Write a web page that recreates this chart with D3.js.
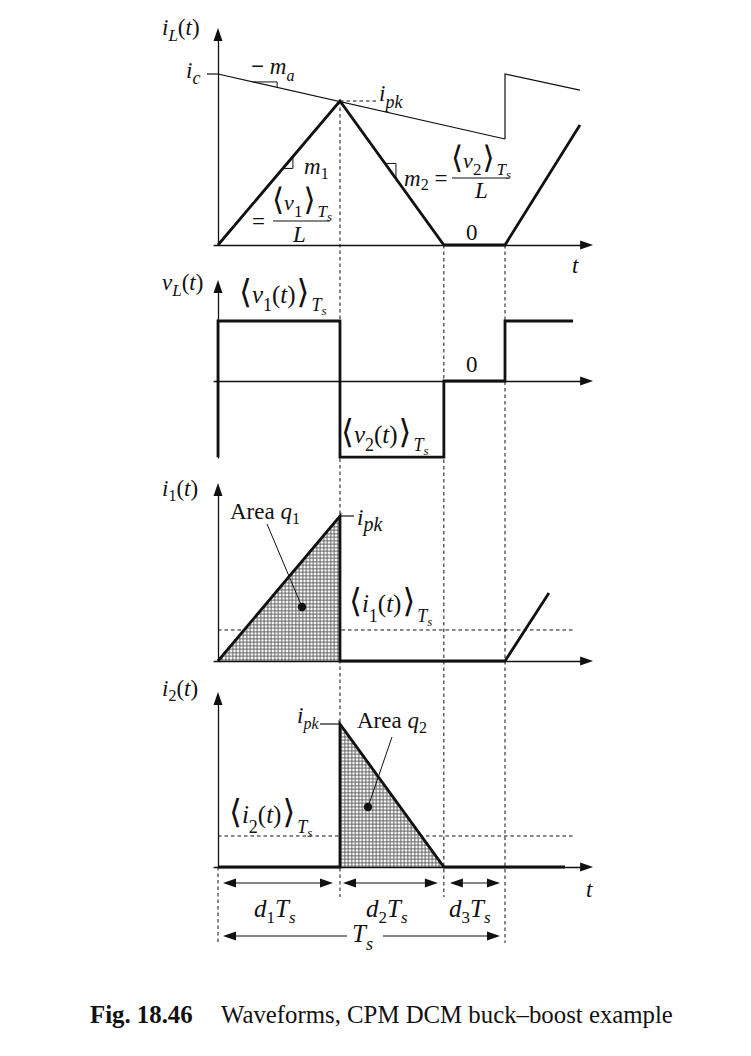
<!DOCTYPE html>
<html><head><meta charset="utf-8">
<script src="https://cdn.jsdelivr.net/npm/d3@7"></script>
<style>body{margin:0;background:#fff} svg{display:block}</style>
</head><body>
<svg id="c" width="751" height="1056"></svg>
<script>
// ---------- data (time in units of Ts, values normalised to i_pk / <v1>) ----------
const phaseBounds = [0, 0.425, 0.787, 1.0];
const iL_t = [0, 0.425, 0.787, 1.0, 1.261];
const iL_v = [0, 1, 0, 0, 0.833];
const ramp1_t = [0, 1.0];
const ramp1_v = [1.1875, 0.736];
const ramp2_t = [1.0, 1.0, 1.261];
const ramp2_v = [0.736, 1.1875, 1.076];
const ic_value = 1.1875;
const vL_t = [0, 0, 0.425, 0.425, 0.787, 0.787, 1.0, 1.0, 1.237];
const vL_v = [-1.27, 1, 1, -1.27, -1.27, 0, 0, 1, 1];
const i1_t = [0, 0.425, 0.425, 1.0, 1.153];
const i1_v = [0, 1, 0, 0, 0.469];
const i1_avg = 0.214;
const i2_t = [0, 0.425, 0.425, 0.787, 1.209];
const i2_v = [0, 0, 1, 0, 0];
const i2_avg = 0.217;
const q1_t = [0, 0.425, 0.425], q1_v = [0, 1, 0];
const q2_t = [0.425, 0.425, 0.787], q2_v = [0, 1, 0];
const axisEnd_t = 1.307, axisStart_t = -0.017, avgEnd_t = 1.244;

// ---------- layout ----------
const svg = d3.select("#c");
const x = d3.scaleLinear().domain([0, 1]).range([218, 505]);
const panel = (y0, y1) => d3.scaleLinear().domain([0, 1]).range([y0, y1]);
const y1s = panel(245, 101), y2s = panel(381, 321), y3s = panel(661, 516), y4s = panel(867, 724);
const INK = "#111";
const SERIF = "'Liberation Serif','Times New Roman',serif";

const defs = svg.append("defs");
const pat = defs.append("pattern").attr("id", "dots").attr("width", 3.5).attr("height", 3.5)
  .attr("patternUnits", "userSpaceOnUse");
pat.append("rect").attr("width", 3.5).attr("height", 3.5).attr("fill", "#fff");
pat.append("circle").attr("cx", 1.75).attr("cy", 1.75).attr("r", 1.05).attr("fill", "none")
  .attr("stroke", "#000").attr("stroke-width", 0.65);

function arrowHead(g, xt, yt, dir, len = 13, hw = 4.5) {
  let p;
  if (dir === "up") p = [[xt, yt], [xt - hw, yt + len], [xt + hw, yt + len]];
  if (dir === "right") p = [[xt, yt], [xt - len, yt - hw], [xt - len, yt + hw]];
  if (dir === "left") p = [[xt, yt], [xt + len, yt - hw], [xt + len, yt + hw]];
  g.append("path").attr("d", d3.line()(p) + "Z").attr("fill", INK);
}

function axes(ys, top, bottom) {
  const g = svg.append("g");
  const vs = d3.scaleLinear().domain([0, 1]).range([bottom, top + 10]);
  g.append("g").attr("transform", `translate(${x(0)},0)`)
    .call(d3.axisLeft(vs).tickValues([]).tickSizeOuter(0))
    .select(".domain").attr("stroke", INK).attr("stroke-width", 1.3);
  arrowHead(g, x(0), top, "up");
  const hs = d3.scaleLinear().domain([0, 1]).range([x(axisStart_t), x(axisEnd_t) - 10]);
  g.append("g").attr("transform", `translate(0,${ys(0)})`)
    .call(d3.axisBottom(hs).tickValues([]).tickSizeOuter(0))
    .select(".domain").attr("stroke", INK).attr("stroke-width", 1.3);
  arrowHead(g, x(axisEnd_t), ys(0), "right");
}

function wave(ts, vs, ys, w = 2.8, col = INK) {
  svg.append("path").datum(d3.zip(ts, vs))
    .attr("d", d3.line().x(d => x(d[0])).y(d => ys(d[1])))
    .attr("fill", "none").attr("stroke", col).attr("stroke-width", w)
    .attr("stroke-linejoin", "miter").attr("stroke-linecap", "butt");
}
function area(ts, vs, ys) {
  const gen = d3.line().x(d => x(d[0])).y(d => ys(d[1]));
  svg.append("path").datum(d3.zip(ts, vs))
    .attr("d", d => gen(d) + "Z").attr("fill", "url(#dots)");
}
function line(x1, y1, x2, y2, w = 1, dash = null) {
  const l = svg.append("line").attr("x1", x1).attr("y1", y1).attr("x2", x2).attr("y2", y2)
    .attr("stroke", INK).attr("stroke-width", w);
  if (dash) l.attr("stroke-dasharray", dash);
  return l;
}

// math label: kinds: i italic, r roman, si sub italic, sr sub roman, ss sub-sub italic, b bracket
function label(x0, y0, segs, opt = {}) {
  const fs = opt.fs || 23, ss = opt.ss || 16, sub = opt.sub || 6;
  const t = svg.append("text").attr("x", x0).attr("y", y0)
    .attr("font-family", SERIF).attr("font-size", fs).attr("fill", INK);
  let cur = 0;
  segs.forEach(([s, k]) => {
    const ts = t.append("tspan").text(s);
    const isSub = k === "si" || k === "sr";
    const target = isSub ? sub : (k === "ss" ? sub + 4 : 0);
    if (target !== cur) { ts.attr("dy", target - cur); cur = target; }
    if (k === "i" || k === "si" || k === "ss") ts.attr("font-style", "italic");
    if (isSub) ts.attr("font-size", ss);
    if (k === "ss") ts.attr("font-size", opt.sss || 12);
    if (k === "b") ts.attr("font-family", "'DejaVu Sans','DejaVu Serif',sans-serif").attr("font-size", opt.bs || 31)
      .attr("font-weight", "200").attr("dx", 1);
    if (k === "bold") ts.attr("font-weight", "bold");
    if (k === "si" && s === "T") ts.attr("dx", 2);
  });
  return t;
}

// ---------- dashed guides ----------
const dashA = "3.5,3";
line(x(phaseBounds[1]), y1s(1), x(phaseBounds[1]), y4s(0) + 30, 1, dashA);
line(x(phaseBounds[2]), y1s(0), x(phaseBounds[2]), y4s(0) + 30, 1, dashA);
line(x(phaseBounds[3]), y1s(0), x(phaseBounds[3]), y4s(0) + 76, 1, dashA);
line(x(phaseBounds[0]), y4s(0), x(phaseBounds[0]), y4s(0) + 76, 1, dashA);
line(x(phaseBounds[1]), y1s(1), x(0.557), y1s(1), 1, dashA);
line(x(0), y3s(i1_avg), x(avgEnd_t), y3s(i1_avg), 1, dashA);
line(x(0), y4s(i2_avg), x(avgEnd_t), y4s(i2_avg), 1, dashA);

// ---------- shaded areas ----------
area(q1_t, q1_v, y3s);
area(q2_t, q2_v, y4s);

// ---------- axes ----------
axes(y1s, 28, y1s(0));
axes(y2s, 280, 458);
axes(y3s, 483, y3s(0));
axes(y4s, 692, y4s(0));

// ---------- panel 1 ----------
wave(ramp1_t, ramp1_v, y1s, 1.2);
wave(ramp2_t, ramp2_v, y1s, 1.2);
line(x(0) - 11, y1s(ic_value), x(0), y1s(ic_value), 1.2);
wave(iL_t, iL_v, y1s, 2.8);
const rampAt = t => ramp1_v[0] + (ramp1_v[1] - ramp1_v[0]) * t;
const riseAt = t => t / 0.425;
const fallAt = t => 1 - (t - 0.425) / (0.787 - 0.425);
function slopeTri(ta, tb, f, ys) {
  svg.append("path").datum([[ta, f(ta)], [tb, f(ta)], [tb, f(tb)]])
    .attr("d", d3.line().x(d => x(d[0])).y(d => ys(d[1])))
    .attr("fill", "none").attr("stroke", INK).attr("stroke-width", 1);
}
slopeTri(0.122, 0.206, rampAt, y1s);
slopeTri(0.226, 0.261, riseAt, y1s);
slopeTri(0.582, 0.620, fallAt, y1s);

label(162, 35, [["i", "i"], ["L", "si"], ["(", "r"], ["t", "i"], [")", "r"]], {ss: 17});
label(186, 78, [["i", "i"], ["c", "si"]], {ss: 18});
label(251, 74, [["−", "bold"], [" ", "r"], ["m", "i"], ["a", "si"]], {sub: 7});
label(379, 101, [["i", "i"], ["pk", "si"]], {sub: 7, ss: 18});
label(304, 174, [["m", "i"], ["1", "sr"]], {sub: 5});
label(252, 229, [["=", "r"]]);
const frOpt = {sub: 7, ss: 17, fs: 22, sss: 13};
label(271, 210, [["⟨", "b"], ["v", "i"], ["1", "sr"], ["⟩", "b"], ["T", "si"], ["s", "ss"]], frOpt);
line(273, 221, 330, 221, 1.2);
label(293, 242, [["L", "i"]]);
label(404, 186, [["m", "i"], ["2", "sr"], [" =", "r"]], {sub: 4});
label(450, 168, [["⟨", "b"], ["v", "i"], ["2", "sr"], ["⟩", "b"], ["T", "si"], ["s", "ss"]], frOpt);
line(452, 178, 509, 178, 1.2);
label(475, 198, [["L", "i"]]);
label(466, 240, [["0", "r"]]);
label(572, 273, [["t", "i"]]);

// ---------- panel 2 ----------
wave(vL_t, vL_v, y2s, 2.8);
label(162, 290, [["v", "i"], ["L", "si"], ["(", "r"], ["t", "i"], [")", "r"]], {ss: 17});
const brOpt = {sub: 8, fs: 25, ss: 18, bs: 33, sss: 13};
label(238, 303, [["⟨", "b"], ["v", "i"], ["1", "sr"], ["(", "r"], ["t", "i"], [")", "r"], ["⟩", "b"], ["T", "si"], ["s", "ss"]], brOpt);
label(466, 372, [["0", "r"]]);
label(340, 443, [["⟨", "b"], ["v", "i"], ["2", "sr"], ["(", "r"], ["t", "i"], [")", "r"], ["⟩", "b"], ["T", "si"], ["s", "ss"]], brOpt);

// ---------- panel 3 ----------
wave(i1_t, i1_v, y3s, 2.8);
line(x(0.425), y3s(1), x(0.425) + 14, y3s(1), 1.2);
label(162, 496, [["i", "i"], ["1", "sr"], ["(", "r"], ["t", "i"], [")", "r"]], {sub: 5});
label(230, 519, [["Area ", "r"], ["q", "i"], ["1", "sr"]], {sub: 5});
label(357, 525, [["i", "i"], ["pk", "si"]], {sub: 6, ss: 20});
const brOpt2 = {sub: 10, fs: 25, ss: 18, bs: 33, sss: 13};
label(348, 612, [["⟨", "b"], ["i", "i"], ["1", "sr"], ["(", "r"], ["t", "i"], [")", "r"], ["⟩", "b"], ["T", "si"], ["s", "ss"]], brOpt2);
line(267, 524, 302, 607, 1);
svg.append("circle").attr("cx", 302).attr("cy", 607).attr("r", 4.2).attr("fill", INK);

// ---------- panel 4 ----------
wave(i2_t, i2_v, y4s, 2.8);
line(x(0.425) - 20, y4s(1), x(0.425), y4s(1), 1.2);
label(297, 723, [["i", "i"], ["pk", "si"]], {sub: 6, ss: 16});
label(162, 696, [["i", "i"], ["2", "sr"], ["(", "r"], ["t", "i"], [")", "r"]], {sub: 5});
label(357, 728, [["Area ", "r"], ["q", "i"], ["2", "sr"]], {sub: 5});
label(228, 823, [["⟨", "b"], ["i", "i"], ["2", "sr"], ["(", "r"], ["t", "i"], [")", "r"], ["⟩", "b"], ["T", "si"], ["s", "ss"]], brOpt2);
line(392, 737, 368, 807, 1);
svg.append("circle").attr("cx", 368).attr("cy", 807).attr("r", 4.2).attr("fill", INK);
label(586, 897, [["t", "i"]]);

// ---------- dimension arrows ----------
function dimArrow(xa, xb, yy) {
  const g = svg.append("g");
  g.append("line").attr("x1", xa + 8).attr("x2", xb - 8).attr("y1", yy).attr("y2", yy)
    .attr("stroke", INK).attr("stroke-width", 1.2);
  arrowHead(g, xa, yy, "left");
  arrowHead(g, xb, yy, "right");
}
const dimY = y4s(0) + 16, tsY = y4s(0) + 69;
dimArrow(x(phaseBounds[0]) + 5, x(phaseBounds[1]) - 7, dimY);
dimArrow(x(phaseBounds[1]) + 3, x(phaseBounds[2]) - 6, dimY);
dimArrow(x(phaseBounds[2]) + 6, x(phaseBounds[3]) - 5, dimY);
{
  const g = svg.append("g");
  g.append("line").attr("x1", x(0) + 13).attr("x2", 347).attr("y1", tsY).attr("y2", tsY)
    .attr("stroke", INK).attr("stroke-width", 1.2);
  g.append("line").attr("x1", 383).attr("x2", x(1) - 13).attr("y1", tsY).attr("y2", tsY)
    .attr("stroke", INK).attr("stroke-width", 1.2);
  arrowHead(g, x(0) + 5, tsY, "left");
  arrowHead(g, x(1) - 5, tsY, "right");
}
const dsegs = n => [["d", "i"], [n, "sr"], ["T", "i"], ["s", "si"]];
label(254, 917, dsegs("1"), {sub: 6, fs: 25, ss: 17});
label(366, 917, dsegs("2"), {sub: 6, fs: 25, ss: 17});
label(449, 917, dsegs("3"), {sub: 6, fs: 25, ss: 17});
label(352, 942, [["T", "i"], ["s", "si"]], {sub: 8, fs: 25, ss: 18});

// ---------- caption ----------
svg.append("text").attr("x", 90).attr("y", 1023).attr("font-family", SERIF).attr("font-size", 24.8)
  .attr("font-weight", "bold").attr("fill", INK).text("Fig. 18.46");
svg.append("text").attr("x", 221).attr("y", 1023).attr("font-family", SERIF).attr("font-size", 24.8)
  .attr("fill", INK).text("Waveforms, CPM DCM buck–boost example");
</script>
</body></html>
